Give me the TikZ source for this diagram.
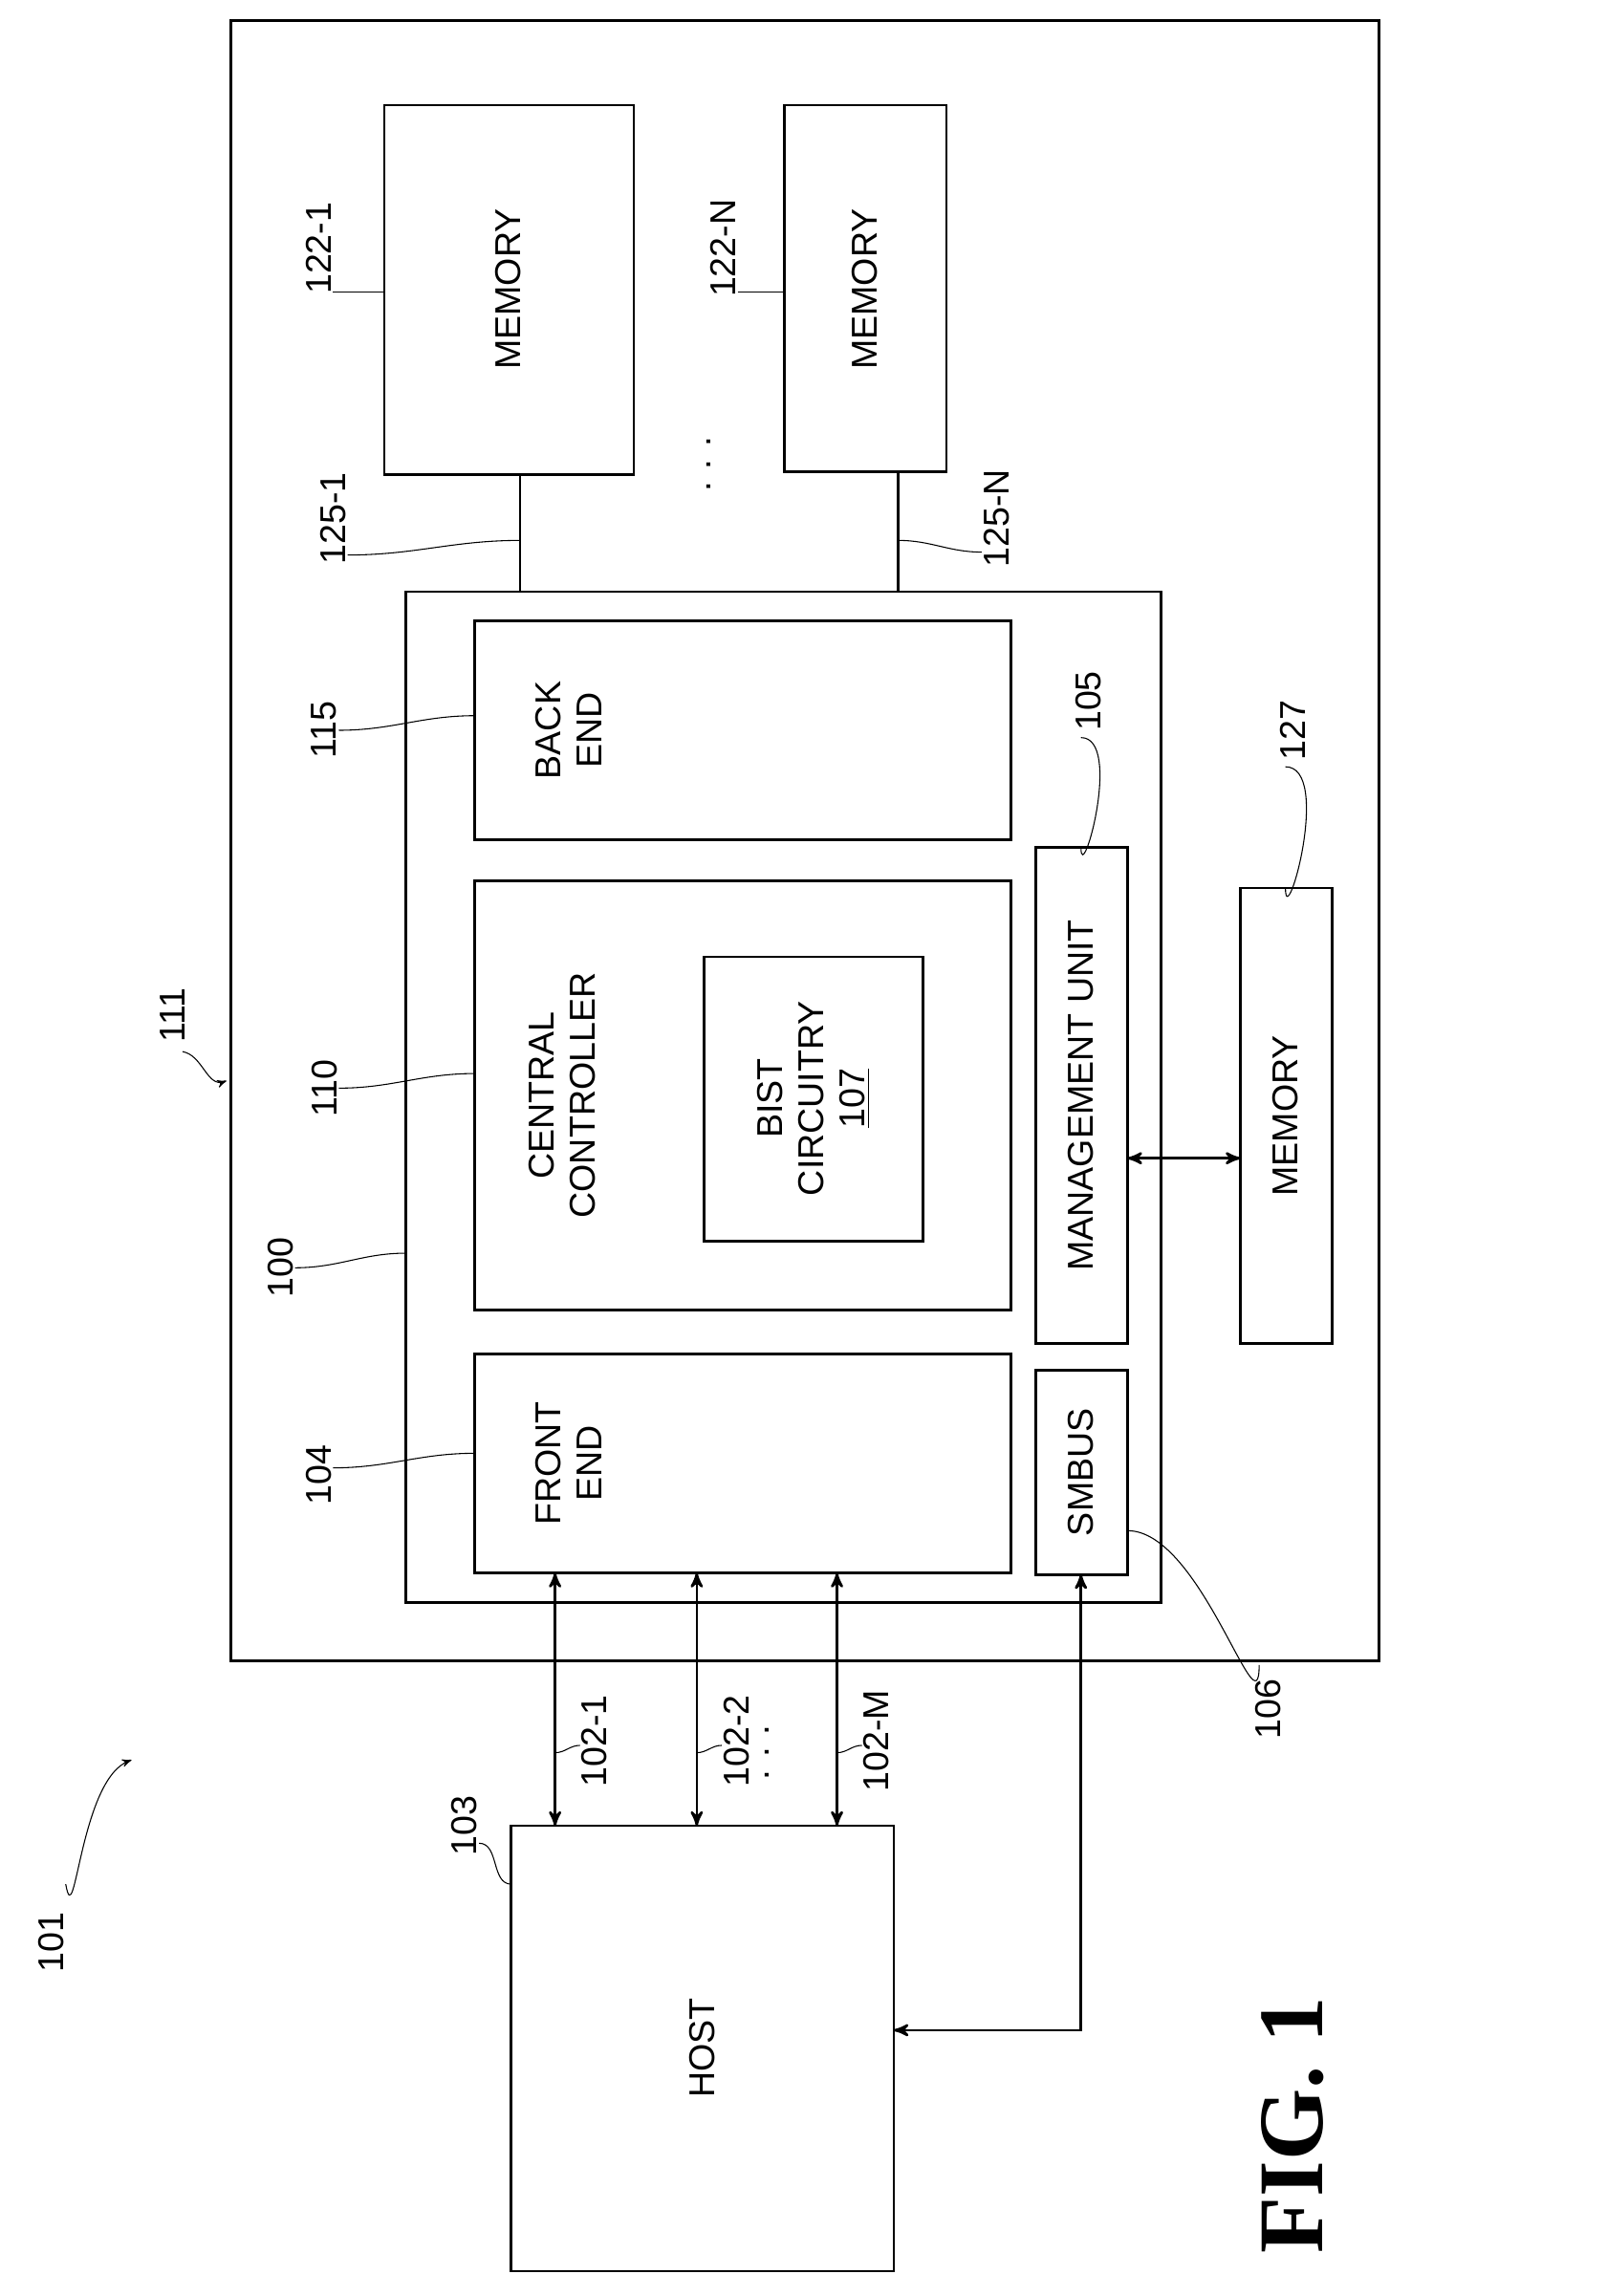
\documentclass[tikz,border=0pt]{standalone}
\usepackage{fontspec}
\setmainfont{Liberation Sans}
\newfontfamily\figfont{Liberation Serif}
\usetikzlibrary{arrows,positioning}

\begin{document}
\begin{tikzpicture}[x=0.02cm,y=-0.02cm,semithick,>=stealth',
                    box/.style={draw,line width=1pt},
                    txt/.style={rotate=90,font=\fontsize{14}{16}\selectfont,align=center},
                    lbl/.style={rotate=90,font=\fontsize{14}{16}\selectfont},
                    lead/.style={thin}]
  \useasboundingbox (0,0) rectangle (1100,1572);

  % boxes
  \draw[box] (158,14) rectangle (944,1137);
  \draw[box] (263,72) rectangle (434,325);
  \node[txt] (m1) at (348,198) {MEMORY};
  \draw[box] (537,72) rectangle (648,323);
  \node[txt] (mN) at (592,198) {MEMORY};
  \node[rotate=90,font=\Large] (dots) at (485,318) {.\,\,.\,\,.};
  \draw[box] (278,405) rectangle (795,1097);
  \draw[box] (325,425) rectangle (692,575);
  \node[txt,anchor=north] (be) at (360,500) {BACK\\END};
  \draw[box] (325,603) rectangle (692,897);
  \node[txt] (cc) at (385,750) {CENTRAL\\CONTROLLER};
  \draw[box] (482,655) rectangle (632,850);
  \node[txt] (bist) at (557,752) {BIST\\CIRCUITRY\\\underline{107}};
  \draw[box] (325,927) rectangle (692,1077);
  \node[txt,anchor=north] (fe) at (360,1002) {FRONT\\END};
  \draw[box] (709,580) rectangle (772,920);
  \node[txt] (mu) at (740,750) {MANAGEMENT UNIT};
  \draw[box] (709,938) rectangle (772,1078);
  \node[txt] (sm) at (740,1008) {SMBUS};
  \draw[box] (849,608) rectangle (912,920);
  \node[txt] (m3) at (880,764) {MEMORY};
  \draw[box] (350,1250) rectangle (612,1555);
  \node[txt] (host) at (481,1402) {HOST};

  % connectors
  \draw[line width=1pt] (356,325) -- (356,405);
  \draw[line width=1pt] (615,323) -- (615,405);
  \draw[<->,line width=1pt] (772,793) -- (849,793);
  \foreach \x in {380,477,573}
    \draw[<->,line width=1pt] (\x,1077) -- (\x,1250);
  \node[rotate=90,font=\Large] (dots2) at (525,1200) {.\,\,.\,\,.};
  \draw[<->,line width=1pt] (740,1078) -- (740,1390) -- (612,1390);

  % labels
  \node[lbl] (l101) at (35,1330) {101};
  \draw[->,lead] (45,1290) to[out=-80,in=200] (90,1205);
  \node[lbl] (l111) at (118,695) {111};
  \draw[->,lead] (125,720) to[out=-10,in=200] (155,740);
  \node[lbl] (l100) at (192,868) {100};
  \draw[lead] (202,868) to[out=0,in=180] (278,858);
  \node[lbl] (l104) at (218,1010) {104};
  \draw[lead] (228,1005) to[out=0,in=180] (325,995);
  \node[lbl] (l110) at (222,745) {110};
  \draw[lead] (232,745) to[out=0,in=180] (325,735);
  \node[lbl] (l115) at (222,500) {115};
  \draw[lead] (232,500) to[out=0,in=180] (325,490);
  \node[lbl] (l1221) at (218,170) {122-1};
  \draw[lead] (228,200) to[out=0,in=180] (263,200);
  \node[lbl] (l122N) at (495,170) {122-N};
  \draw[lead] (505,200) to[out=0,in=180] (537,200);
  \node[lbl] (l1251) at (228,355) {125-1};
  \draw[lead] (238,380) to[out=0,in=180] (356,370);
  \node[lbl] (l125N) at (682,355) {125-N};
  \draw[lead] (672,378) to[out=180,in=0] (615,370);
  \node[lbl] (l105) at (745,480) {105};
  \draw[lead] (740,505) to[out=0,in=-90] (740,580);
  \node[lbl] (l127) at (885,500) {127};
  \draw[lead] (880,525) to[out=0,in=-90] (880,608);
  \node[lbl] (l106) at (868,1170) {106};
  \draw[lead] (862,1140) to[out=-90,in=0] (772,1048);
  \node[lbl] (l1021) at (407,1192) {102-1};
  \draw[lead] (397,1195) to[out=180,in=0] (380,1200);
  \node[lbl] (l1022) at (504,1192) {102-2};
  \draw[lead] (494,1195) to[out=180,in=0] (477,1200);
  \node[lbl] (l102M) at (600,1192) {102-M};
  \draw[lead] (590,1195) to[out=180,in=0] (573,1200);
  \node[lbl] (l103) at (318,1250) {103};
  \draw[lead] (328,1262) to[out=0,in=180] (350,1290);
  \node[rotate=90,font=\fontsize{36}{40}\selectfont\bfseries\figfont] (fig) at (885,1455) {FIG. 1};
\end{tikzpicture}
\end{document}
